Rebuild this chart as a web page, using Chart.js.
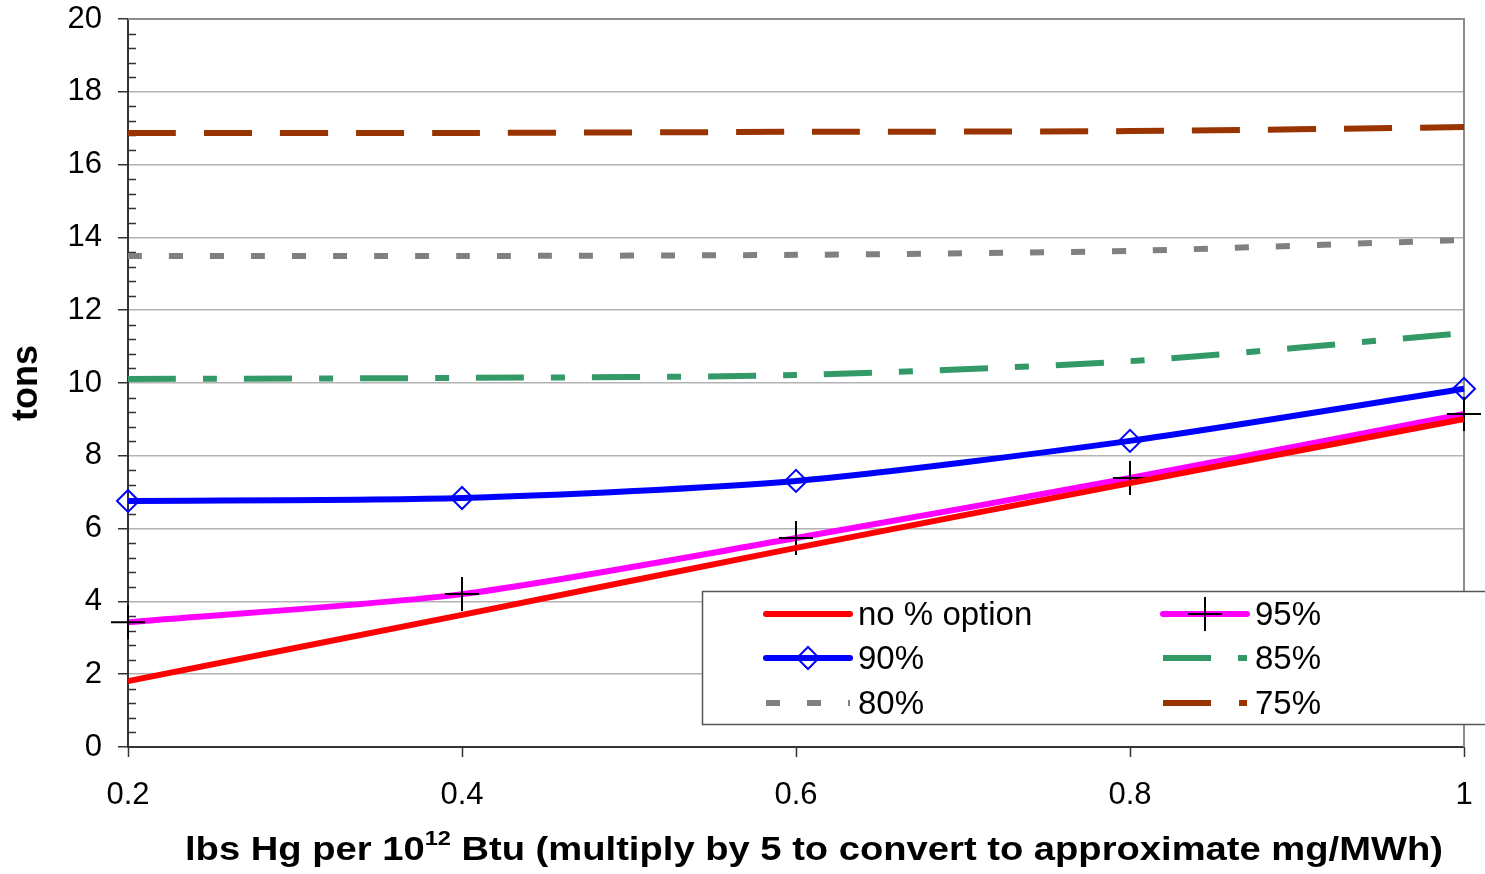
<!DOCTYPE html>
<html>
<head>
<meta charset="utf-8">
<script src="https://cdn.jsdelivr.net/npm/chart.js@4.4.0/dist/chart.umd.min.js"></script>
<style>
  html, body { margin: 0; padding: 0; background: #fff; }
  #wrap { width: 1485px; height: 874px; position: relative; }
</style>
</head>
<body>
<div id="wrap"><canvas id="hgChart" width="1485" height="874"></canvas></div>
<script>
// x categories (lbs Hg per 10^12 Btu)
const xLabels = ["0.2", "0.4", "0.6", "0.8", "1"];

// tons
const noOption = [1.81, 3.63, 5.47, 7.25, 9.01];
const pct95 = [3.43, 4.20, 5.74, 7.39, 9.15];
const pct90 = [6.76, 6.84, 7.31, 8.41, 9.84];
const pct85 = [10.11, 10.14, 10.22, 10.60, 11.37];
const pct80 = [13.49, 13.49, 13.52, 13.63, 13.93];
const pct75 = [16.87, 16.87, 16.90, 16.92, 17.03];

const yTicks = [0, 2, 4, 6, 8, 10, 12, 14, 16, 18, 20];

const FONT = "'Liberation Sans', Arial, sans-serif";

function series(label, data, color, dash, extra) {
    return Object.assign({
        label: label,
        data: data,
        borderColor: color,
        backgroundColor: color,
        borderWidth: 6,
        borderDash: dash,
        borderCapStyle: "butt",
        tension: 0.25,
        pointRadius: 0,
        clip: false
    }, extra || {});
}

const datasets = [
    series("75%", pct75, "#993300", [48, 28]),
    series("80%", pct80, "#808080", [14, 27]),
    series("85%", pct85, "#339966", [48, 27, 14, 27]),
    series("no % option", noOption, "#FF0000", []),
    series("95%", pct95, "#FF00FF", [], {
        pointStyle: "cross", pointRadius: 17, pointBorderColor: "#000", pointBorderWidth: 2
    }),
    series("90%", pct90, "#0000FF", [], {
        pointStyle: "rectRot", pointRadius: 11, pointBorderColor: "#0000FF",
        pointBackgroundColor: "rgba(0,0,0,0)", pointBorderWidth: 2
    })
];

// legend layout: [label, column, row]
const legendItems = [
    ["no % option", 0, 0], ["95%", 1, 0],
    ["90%", 0, 1], ["85%", 1, 1],
    ["80%", 0, 2], ["75%", 1, 2]
];

function stretchedText(ctx, text, x, y, sx) {
    ctx.save();
    ctx.translate(x, y);
    ctx.scale(sx, 1);
    ctx.fillText(text, 0, 0);
    ctx.restore();
}

const extrasPlugin = {
    id: "extras",
    beforeDatasetsDraw(chart) {
        const ctx = chart.ctx;
        const a = chart.chartArea;
        const y = chart.scales.y;
        ctx.save();
        // top and right border of plot area
        ctx.strokeStyle = "#8c8c8c";
        ctx.lineWidth = 2;
        ctx.beginPath();
        ctx.moveTo(a.left, a.top);
        ctx.lineTo(a.right, a.top);
        ctx.lineTo(a.right, a.bottom);
        ctx.stroke();
        // minor ticks on the y axis
        ctx.strokeStyle = "#333";
        ctx.lineWidth = 1.5;
        for (let i = 1; i < 50; i++) {
            if (i % 5 === 0) continue;
            const py = Math.round(y.getPixelForValue(i * 0.4)) + 0.5;
            ctx.beginPath();
            ctx.moveTo(a.left, py);
            ctx.lineTo(a.left + 8, py);
            ctx.stroke();
        }
        ctx.restore();
    },
    afterDraw(chart) {
        const ctx = chart.ctx;
        ctx.save();

        // y title
        ctx.fillStyle = "#000";
        ctx.font = "bold 36px " + FONT;
        ctx.textAlign = "center";
        ctx.textBaseline = "middle";
        ctx.translate(27, 383);
        ctx.rotate(-Math.PI / 2);
        ctx.fillText("tons", 0, 0);
        ctx.setTransform(1, 0, 0, 1, 0, 0);

        // x title with superscript, stretched to the original width
        const p1 = "lbs Hg per 10";
        const p2 = "12";
        const p3 = " Btu (multiply by 5 to convert to approximate mg/MWh)";
        ctx.textAlign = "left";
        ctx.textBaseline = "alphabetic";
        ctx.font = "bold 34px " + FONT;
        const w1 = ctx.measureText(p1).width;
        const w3 = ctx.measureText(p3).width;
        ctx.font = "bold 21px " + FONT;
        const w2 = ctx.measureText(p2).width;
        const sx = 1258 / (w1 + w2 + w3);
        let x = 185;
        const base = 860;
        ctx.font = "bold 34px " + FONT;
        stretchedText(ctx, p1, x, base, sx);
        x += w1 * sx;
        ctx.font = "bold 21px " + FONT;
        stretchedText(ctx, p2, x, base - 15, sx);
        x += w2 * sx;
        ctx.font = "bold 34px " + FONT;
        stretchedText(ctx, p3, x, base, sx);

        // legend box
        ctx.fillStyle = "#fff";
        ctx.fillRect(702, 591, 790, 133);
        ctx.strokeStyle = "#555";
        ctx.lineWidth = 1.5;
        ctx.strokeRect(702.5, 591.5, 790, 133);

        const colX = [766, 1163];
        const rowY = [614, 658, 703];
        legendItems.forEach(function (item) {
            const ds = chart.data.datasets.find(d => d.label === item[0]);
            const x0 = colX[item[1]];
            const y0 = rowY[item[2]];
            ctx.strokeStyle = ds.borderColor;
            ctx.lineWidth = 6;
            ctx.lineCap = ds.borderDash.length ? "butt" : "round";
            ctx.setLineDash(ds.borderDash);
            ctx.beginPath();
            ctx.moveTo(x0, y0);
            ctx.lineTo(x0 + 84, y0);
            ctx.stroke();
            ctx.setLineDash([]);
            ctx.lineCap = "butt";
            const mx = x0 + 42;
            if (ds.pointStyle === "cross") {
                ctx.strokeStyle = "#000";
                ctx.lineWidth = 2;
                ctx.beginPath();
                ctx.moveTo(mx - 17, y0); ctx.lineTo(mx + 17, y0);
                ctx.moveTo(mx, y0 - 17); ctx.lineTo(mx, y0 + 17);
                ctx.stroke();
            } else if (ds.pointStyle === "rectRot") {
                ctx.strokeStyle = "#0000FF";
                ctx.lineWidth = 2;
                ctx.beginPath();
                ctx.moveTo(mx, y0 - 11); ctx.lineTo(mx + 11, y0);
                ctx.lineTo(mx, y0 + 11); ctx.lineTo(mx - 11, y0);
                ctx.closePath();
                ctx.stroke();
            }
            ctx.fillStyle = "#000";
            ctx.font = "33px " + FONT;
            ctx.textAlign = "left";
            ctx.textBaseline = "middle";
            ctx.fillText(item[0], x0 + 92, y0 + 2);
        });
        ctx.restore();
    }
};

new Chart(document.getElementById("hgChart"), {
    type: "line",
    data: { labels: xLabels, datasets: datasets },
    options: {
        responsive: false,
        animation: false,
        events: [],
        layout: { padding: { top: 19, right: 21, left: 0, bottom: 0 } },
        plugins: { legend: { display: false }, tooltip: { enabled: false } },
        scales: {
            x: {
                type: "category",
                offset: false,
                afterFit(scale) {
                    scale.height = 127;
                    scale.paddingLeft = 0; scale.paddingRight = 0;
                },
                grid: { display: true, drawOnChartArea: false, drawTicks: true, tickLength: 10, tickColor: "#333", tickWidth: 1.5 },
                border: { display: true, color: "#333", width: 2 },
                ticks: { color: "#000", padding: 20, maxRotation: 0, font: { family: FONT, size: 31 } }
            },
            y: {
                min: 0,
                max: 20,
                afterFit(scale) {
                    scale.width = 128;
                    scale.paddingTop = 0; scale.paddingBottom = 0;
                },
                afterBuildTicks(scale) { scale.ticks = yTicks.map(v => ({ value: v })); },
                grid: { color: "#b3b3b3", lineWidth: 1.5, drawTicks: true, tickLength: 10, tickColor: "#333" },
                border: { display: true, color: "#333", width: 2 },
                ticks: { color: "#000", padding: 16, font: { family: FONT, size: 31 } }
            }
        }
    },
    plugins: [extrasPlugin]
});
</script>
</body>
</html>
